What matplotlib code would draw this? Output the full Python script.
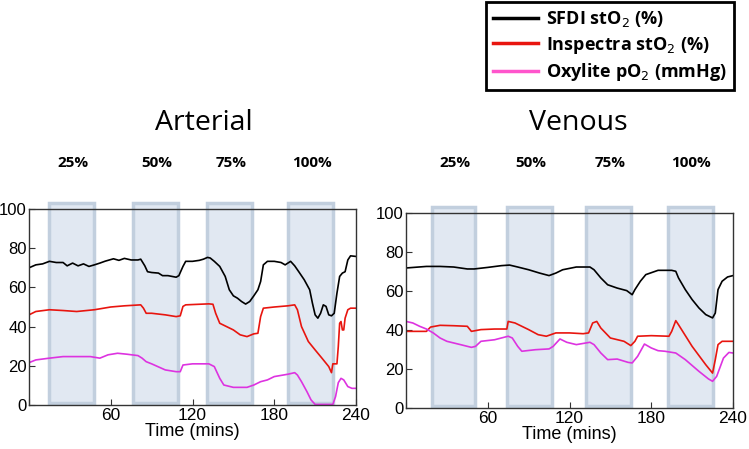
import numpy as np
import matplotlib
matplotlib.use("Agg")
import matplotlib.pyplot as plt
from matplotlib.patches import Rectangle

plt.rcParams['font.family'] = ['Liberation Sans', 'DejaVu Sans']

# occlusion periods (minutes) and their labels
band_labels = ["25%", "50%", "75%", "100%"]
art_bands = [(15, 48), (76, 109), (131, 164), (190, 223)]
ven_bands = [(19, 51), (74, 107), (132, 165), (192, 225)]

# ---------------- Arterial ----------------
art_sfdi_t = [0, 5, 10, 15, 20, 25, 28, 32, 36, 40, 44, 48, 52, 56, 62, 66, 70, 75, 80, 82, 85, 87, 90,
              95, 98, 102, 108, 110, 113, 115, 120, 125, 128, 131, 133, 136, 140, 144, 147, 150, 153, 156,
              159, 162, 165, 168, 170, 172, 175, 180, 185, 188, 190, 192, 195, 198, 202, 206, 208, 210,
              212, 214, 216, 218, 220, 222, 224, 226, 228, 230, 232, 234, 236, 240]
art_sfdi = [70, 71.5, 72, 73.3, 72.7, 72.7, 71, 72.4, 71, 72, 70.7, 71.5, 72.4, 73.4, 74.6, 73.8, 74.8, 74,
            74, 74.4, 71, 68, 67.6, 67.3, 66, 66, 65.2, 66, 70.7, 73.3, 73.3, 73.8, 74.4, 75.3, 75, 73.3,
            70.7, 65.6, 58.8, 55.7, 54.5, 52.8, 51.5, 52.8, 55.7, 58.8, 63, 71.5, 73.3, 73.3, 72.7, 71.5,
            72.4, 73.3, 71, 68, 63.9, 58.8, 52, 46, 44.3, 46.8, 51.1, 50.3, 46, 45.5, 46.8, 57, 65.6, 67.3,
            68, 74, 76.1, 75.8]

art_insp_t = [0, 5, 15, 25, 35, 48, 60, 70, 82, 84, 86, 90, 100, 108, 111, 113, 115, 125, 132, 135, 137,
              140, 145, 150, 155, 160, 165, 168, 170, 172, 180, 190, 195, 197, 200, 205, 210, 215, 220,
              222, 223, 226, 227, 228, 229, 230, 231, 232, 234, 236, 240]
art_insp = [46, 47.7, 48.6, 48.2, 47.7, 48.6, 50, 50.6, 51.1, 49.4, 46.8, 46.8, 46, 45.1, 45.5, 50.3, 51.1,
            51.4, 51.6, 51.4, 46.8, 41.7, 40, 38.3, 35.8, 34.9, 36.3, 36.6, 45.1, 49.4, 50, 50.6, 51.1,
            48.6, 40, 32.4, 28.1, 23.9, 19.6, 16.5, 21, 21, 29.8, 41.7, 42.6, 38.3, 38.3, 44.3, 48.6,
            49.4, 49.4]

art_oxy_t = [0, 5, 15, 25, 35, 45, 52, 58, 65, 72, 80, 83, 86, 90, 100, 108, 111, 113, 120, 132, 136,
             140, 143, 150, 160, 165, 170, 175, 180, 190, 195, 197, 200, 204, 207, 210, 223, 225, 227,
             229, 231, 234, 237, 240]
art_oxy = [21.6, 23, 23.9, 24.7, 24.7, 24.7, 23.9, 25.6, 26.4, 25.9, 25.2, 23.9, 22.1, 21, 17.9, 17, 17,
           20.4, 21, 21, 19.6, 13.6, 10.2, 9, 9, 10.2, 11.9, 12.8, 14.5, 15.7, 16.5, 15.3, 11.9, 6.8,
           2.6, 0.3, 0.3, 4.3, 11.4, 13.6, 12.8, 9.4, 8.5, 8.5]

# ---------------- Venous ----------------
ven_sfdi_t = [0, 15, 25, 35, 45, 50, 60, 70, 76, 82, 90, 98, 105, 110, 115, 125, 135, 138, 143, 148,
              155, 162, 166, 168, 172, 176, 185, 195, 198, 200, 205, 210, 215, 220, 225, 227, 229, 232,
              236, 240]
ven_sfdi = [71.8, 72.6, 72.6, 72.3, 71.3, 71.3, 72.1, 73, 73.3, 72.3, 70.9, 69.2, 67.9, 69.2, 70.9, 72.3,
            72.3, 70.9, 66.7, 63.2, 61.5, 60.2, 58.1, 60.7, 65, 68.4, 70.6, 70.6, 70.1, 66.7, 60.7, 55.6,
            51.3, 47.9, 46.2, 48.7, 60.7, 65, 67.2, 67.9]

ven_insp_t = [0, 15, 18, 25, 35, 45, 48, 55, 65, 74, 75, 80, 90, 97, 103, 110, 120, 130, 134, 137, 140,
              143, 150, 160, 165, 168, 170, 180, 193, 195, 198, 200, 210, 220, 225, 227, 229, 232, 240]
ven_insp = [39.3, 39.3, 41.5, 42.4, 42.2, 41.9, 39.3, 40.2, 40.5, 40.5, 44.4, 43.6, 40.2, 37.6, 36.8,
            38.5, 38.5, 38.1, 38.5, 43.6, 44.4, 41, 35.9, 34.2, 32, 34.2, 36.8, 37.1, 36.8, 39.3, 44.8,
            42.7, 31.6, 22.2, 17.9, 24.8, 32.5, 34.2, 34.2]

ven_oxy_t = [0, 5, 10, 15, 20, 25, 30, 40, 48, 51, 55, 65, 75, 78, 82, 85, 95, 105, 108, 113, 118, 125,
             135, 138, 143, 148, 155, 163, 166, 170, 175, 180, 185, 190, 198, 205, 215, 222, 225, 228,
             233, 237, 240]
ven_oxy = [44.4, 43.6, 41.9, 40.5, 38.5, 35.9, 34.2, 32.5, 31.1, 31.6, 34.2, 35, 36.8, 35.9, 31.6, 29.1,
           29.9, 30.3, 31.6, 35.4, 33.7, 32.5, 33.7, 32.5, 28.2, 24.8, 25.1, 23.4, 23.1, 26.5, 32.8, 30.8,
           29.4, 29.1, 28.2, 24.8, 18.8, 14.9, 13.7, 16.2, 25.6, 28.5, 28.2]

series_labels = [r"SFDI stO$_2$ (%)", r"Inspectra stO$_2$ (%)", r"Oxylite pO$_2$ (mmHg)"]
colors = ["black", "#e8150f", "#dd33e0"]

fig = plt.figure(figsize=(7.49, 4.49), dpi=100)
ax1 = fig.add_axes([29 / 749, 1 - 405 / 449, 327 / 749, 196 / 449])
ax2 = fig.add_axes([406 / 749, 1 - 408 / 449, 327 / 749, 195 / 449])

panels = [
    (ax1, "Arterial", 204, art_bands, [(art_sfdi_t, art_sfdi), (art_insp_t, art_insp), (art_oxy_t, art_oxy)]),
    (ax2, "Venous", 578, ven_bands, [(ven_sfdi_t, ven_sfdi), (ven_insp_t, ven_insp), (ven_oxy_t, ven_oxy)]),
]

label_font = ["Open Sans", "DejaVu Sans"]
lines = []
for ax, title, title_x, bands, data in panels:
    ax.set_xlim(0, 240)
    ax.set_ylim(0, 100)
    # shaded occlusion periods, sticking out above the axes a little
    for (a, b), lab in zip(bands, band_labels):
        ax.add_patch(Rectangle((a, 1), b - a, 102, facecolor="#e1e8f2", edgecolor="#c2cfde",
                               linewidth=2.5, clip_on=False, zorder=1))
        # x in data units, y in figure units
        x_fig = fig.transFigure.inverted().transform(ax.transData.transform(((a + b) / 2 + 1, 0)))[0]
        fig.text(x_fig, 1 - 167 / 449, lab, ha="center", va="baseline",
                 fontsize=11, fontweight="bold", family=label_font)
    lines = []
    for (t, y), c in zip(data, colors):
        ln, = ax.plot(t, y, color=c, linewidth=1.2, zorder=3)
        lines.append(ln)
    ax.set_xticks([0, 60, 120, 180, 240])
    ax.set_xticklabels(["", "60", "120", "180", "240"])
    ax.set_yticks([0, 20, 40, 60, 80, 100])
    ax.tick_params(direction="in", length=4, labelsize=12, pad=1.5, color="#333333")
    ax.tick_params(axis="x", labelsize=12.5, pad=2)
    for s in ax.spines.values():
        s.set_color("#333333")
        s.set_linewidth(1.0)
        s.set_zorder(4)
    ax.set_xlabel("Time (mins)", fontsize=13, labelpad=0)
    fig.text(title_x / 749, 1 - 130 / 449, title, ha="center", va="baseline", fontsize=20.5,
             family=label_font)

leg = fig.legend(lines, series_labels, loc="upper left", bbox_to_anchor=(486 / 749, 1 - 2 / 449),
                 borderaxespad=0, frameon=True, fancybox=False, edgecolor="black", framealpha=1,
                 handlelength=2.5, handletextpad=0.4, borderpad=0.4, labelspacing=0.3,
                 prop={"weight": "bold", "size": 13, "family": label_font})
leg.get_frame().set_linewidth(2)
for h in leg.get_lines():
    h.set_linewidth(2.5)
leg.get_lines()[2].set_color("#ff55cc")

fig.savefig("out.png", dpi=100)
